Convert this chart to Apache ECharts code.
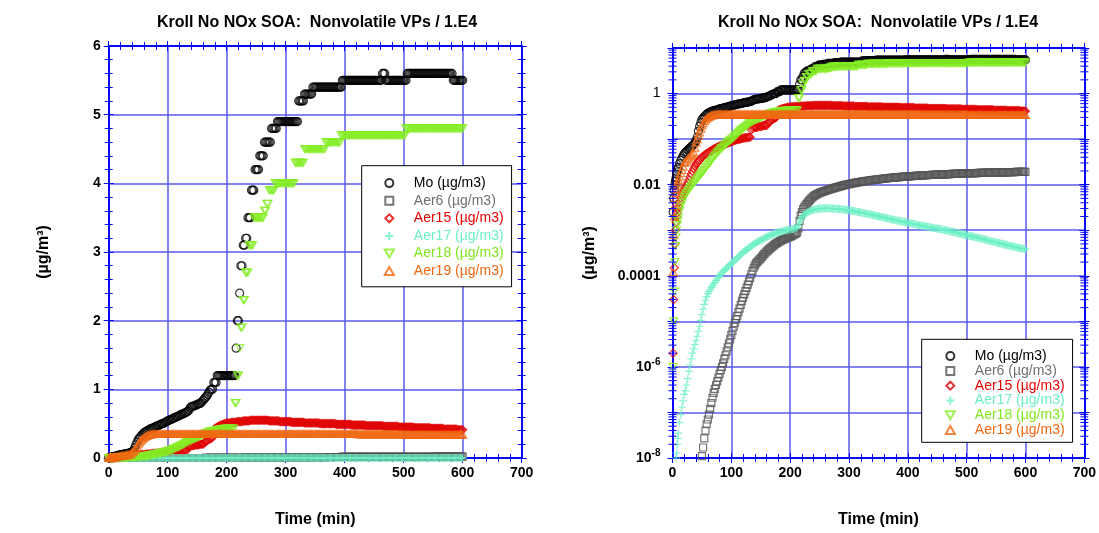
<!DOCTYPE html>
<html>
<head>
<meta charset="utf-8">
<title>Kroll No NOx SOA: Nonvolatile VPs / 1.E4</title>
<script src="https://cdn.jsdelivr.net/npm/echarts@6/dist/echarts.min.js"></script>
<style>
  html, body { margin: 0; padding: 0; background: #ffffff; }
  #chart { width: 1099px; height: 533px; }
</style>
</head>
<body>
<div id="chart"></div>
<script>
// Simulation output times (min); one row per 20 minutes after t = 20
const timeMin = [
  0, 1, 2, 3, 4, 5, 6, 7, 8, 9, 10, 12, 14, 16, 18, 20,
  22, 24, 26, 28, 30, 32, 34, 36, 38, 40,
  42, 44, 46, 48, 50, 52, 54, 56, 58, 60,
  62, 64, 66, 68, 70, 72, 74, 76, 78, 80,
  82, 84, 86, 88, 90, 92, 94, 96, 98, 100,
  102, 104, 106, 108, 110, 112, 114, 116, 118, 120,
  122, 124, 126, 128, 130, 132, 134, 136, 138, 140,
  142, 144, 146, 148, 150, 152, 154, 156, 158, 160,
  162, 164, 166, 168, 170, 172, 174, 176, 178, 180,
  182, 184, 186, 188, 190, 192, 194, 196, 198, 200,
  202, 204, 206, 208, 210, 212, 214, 216, 218, 220,
  222, 224, 226, 228, 230, 232, 234, 236, 238, 240,
  242, 244, 246, 248, 250, 252, 254, 256, 258, 260,
  262, 264, 266, 268, 270, 272, 274, 276, 278, 280,
  282, 284, 286, 288, 290, 292, 294, 296, 298, 300,
  302, 304, 306, 308, 310, 312, 314, 316, 318, 320,
  322, 324, 326, 328, 330, 332, 334, 336, 338, 340,
  342, 344, 346, 348, 350, 352, 354, 356, 358, 360,
  362, 364, 366, 368, 370, 372, 374, 376, 378, 380,
  382, 384, 386, 388, 390, 392, 394, 396, 398, 400,
  402, 404, 406, 408, 410, 412, 414, 416, 418, 420,
  422, 424, 426, 428, 430, 432, 434, 436, 438, 440,
  442, 444, 446, 448, 450, 452, 454, 456, 458, 460,
  462, 464, 466, 468, 470, 472, 474, 476, 478, 480,
  482, 484, 486, 488, 490, 492, 494, 496, 498, 500,
  502, 504, 506, 508, 510, 512, 514, 516, 518, 520,
  522, 524, 526, 528, 530, 532, 534, 536, 538, 540,
  542, 544, 546, 548, 550, 552, 554, 556, 558, 560,
  562, 564, 566, 568, 570, 572, 574, 576, 578, 580,
  582, 584, 586, 588, 590, 592, 594, 596, 598, 600
];

// Aerosol concentrations (ug/m3), same row layout as timeMin
const mo = [
  0, 0.0025, 0.005, 0.0075, 0.01, 0.012, 0.014, 0.017, 0.019, 0.022, 0.024, 0.029, 0.034, 0.038, 0.043, 0.048,
  0.051, 0.054, 0.058, 0.061, 0.064, 0.068, 0.072, 0.076, 0.083, 0.093,
  0.11, 0.15, 0.19, 0.23, 0.27, 0.29, 0.31, 0.33, 0.35, 0.37,
  0.38, 0.39, 0.40, 0.41, 0.42, 0.43, 0.43, 0.44, 0.45, 0.46,
  0.47, 0.47, 0.48, 0.49, 0.50, 0.50, 0.51, 0.52, 0.53, 0.54,
  0.55, 0.56, 0.56, 0.57, 0.58, 0.59, 0.60, 0.60, 0.61, 0.62,
  0.63, 0.64, 0.64, 0.65, 0.66, 0.67, 0.68, 0.70, 0.73, 0.75,
  0.75, 0.76, 0.76, 0.77, 0.78, 0.79, 0.79, 0.80, 0.82, 0.84,
  0.86, 0.88, 0.90, 0.93, 0.96, 0.99, 1.0, 1.0, 1.1, 1.1,
  1.1, 1.2, 1.2, 1.2, 1.2, 1.2, 1.2, 1.2, 1.2, 1.2,
  1.2, 1.2, 1.2, 1.2, 1.2, 1.2, 1.2, 1.6, 2.0, 2.0,
  2.4, 2.8, 2.8, 3.1, 3.1, 3.2, 3.2, 3.5, 3.5, 3.5,
  3.9, 3.9, 3.9, 4.2, 4.2, 4.2, 4.2, 4.4, 4.4, 4.4,
  4.4, 4.6, 4.6, 4.6, 4.6, 4.6, 4.6, 4.8, 4.8, 4.8,
  4.8, 4.8, 4.9, 4.9, 4.9, 4.9, 4.9, 4.9, 4.9, 4.9,
  4.9, 4.9, 4.9, 4.9, 4.9, 4.9, 4.9, 4.9, 4.9, 4.9,
  5.2, 5.2, 5.2, 5.2, 5.2, 5.3, 5.3, 5.3, 5.3, 5.3,
  5.3, 5.3, 5.4, 5.4, 5.4, 5.4, 5.4, 5.4, 5.4, 5.4,
  5.4, 5.4, 5.4, 5.4, 5.4, 5.4, 5.4, 5.4, 5.4, 5.4,
  5.4, 5.4, 5.4, 5.4, 5.4, 5.4, 5.4, 5.5, 5.5, 5.5,
  5.5, 5.5, 5.5, 5.5, 5.5, 5.5, 5.5, 5.5, 5.5, 5.5,
  5.5, 5.5, 5.5, 5.5, 5.5, 5.5, 5.5, 5.5, 5.5, 5.5,
  5.5, 5.5, 5.5, 5.5, 5.5, 5.5, 5.5, 5.5, 5.5, 5.5,
  5.5, 5.6, 5.6, 5.6, 5.5, 5.5, 5.5, 5.5, 5.5, 5.5,
  5.5, 5.5, 5.5, 5.5, 5.5, 5.5, 5.5, 5.5, 5.5, 5.5,
  5.5, 5.5, 5.6, 5.6, 5.6, 5.6, 5.6, 5.6, 5.6, 5.6,
  5.6, 5.6, 5.6, 5.6, 5.6, 5.6, 5.6, 5.6, 5.6, 5.6,
  5.6, 5.6, 5.6, 5.6, 5.6, 5.6, 5.6, 5.6, 5.6, 5.6,
  5.6, 5.6, 5.6, 5.6, 5.6, 5.6, 5.6, 5.6, 5.6, 5.6,
  5.6, 5.5, 5.5, 5.5, 5.5, 5.5, 5.5, 5.5, 5.5, 5.5
];
const aer6 = [
  0, 0, 0, 0, 0, 0, 0, 0, 0, 0, 0, 0, 0, 0, 0, 0,
  0, 0, 0, 0, 0, 0, 0, 0, 0, 0,
  0, 0, 0, 7e-9, 1.1e-8, 1.7e-8, 2.7e-8, 4e-8, 5.5e-8, 7e-8,
  9e-8, 1.2e-7, 1.6e-7, 2.1e-7, 2.7e-7, 3.3e-7, 4e-7, 4.8e-7, 5.8e-7, 7e-7,
  8.5e-7, 1e-6, 1.2e-6, 1.5e-6, 1.8e-6, 2.2e-6, 2.7e-6, 3.3e-6, 4e-6, 5e-6,
  6.2e-6, 7.6e-6, 9.2e-6, 1.1e-5, 1.3e-5, 1.6e-5, 1.9e-5, 2.3e-5, 2.8e-5, 3.3e-5,
  3.9e-5, 4.6e-5, 5.4e-5, 6.4e-5, 7.5e-5, 9e-5, 1.08e-4, 1.28e-4, 1.5e-4, 1.7e-4,
  1.87e-4, 2.0e-4, 2.15e-4, 2.28e-4, 2.4e-4, 2.6e-4, 2.8e-4, 3.0e-4, 3.2e-4, 3.4e-4,
  3.6e-4, 3.8e-4, 4.0e-4, 4.2e-4, 4.4e-4, 4.65e-4, 4.9e-4, 5.1e-4, 5.3e-4, 5.5e-4,
  5.7e-4, 5.9e-4, 6.1e-4, 6.3e-4, 6.4e-4, 6.6e-4, 6.8e-4, 6.9e-4, 7.1e-4, 7.2e-4,
  7.4e-4, 7.7e-4, 8.0e-4, 8.3e-4, 8.5e-4, 9e-4, 1.1e-3, 1.6e-3, 2.1e-3, 2.5e-3,
  2.9e-3, 3.2e-3, 3.5e-3, 3.8e-3, 4.1e-3, 4.4e-3, 4.7e-3, 5e-3, 5.3e-3, 5.6e-3,
  5.8e-3, 6e-3, 6.2e-3, 6.4e-3, 6.6e-3, 6.75e-3, 6.9e-3, 7.05e-3, 7.2e-3, 7.35e-3,
  7.5e-3, 7.65e-3, 7.8e-3, 7.95e-3, 8.1e-3, 8.25e-3, 8.4e-3, 8.55e-3, 8.7e-3, 8.85e-3,
  9e-3, 9.15e-3, 9.3e-3, 9.45e-3, 9.6e-3, 9.75e-3, 9.9e-3, 0.0100, 0.0102, 0.0103,
  0.0104, 0.0106, 0.0107, 0.0108, 0.0109, 0.0111, 0.0112, 0.0113, 0.0114, 0.0116,
  0.0117, 0.0118, 0.0119, 0.012, 0.0121, 0.0122, 0.0123, 0.0124, 0.0125, 0.0126,
  0.0127, 0.0128, 0.0129, 0.013, 0.0131, 0.0132, 0.0133, 0.0134, 0.0135, 0.0136,
  0.0137, 0.0138, 0.0139, 0.014, 0.0141, 0.0141, 0.0142, 0.0143, 0.0144, 0.0145,
  0.0145, 0.0146, 0.0147, 0.0148, 0.0148, 0.0149, 0.015, 0.0151, 0.0151, 0.0152,
  0.0152, 0.0153, 0.0154, 0.0154, 0.0155, 0.0156, 0.0156, 0.0157, 0.0158, 0.0158,
  0.0159, 0.0159, 0.016, 0.016, 0.0161, 0.0162, 0.0162, 0.0163, 0.0163, 0.0164,
  0.0164, 0.0165, 0.0165, 0.0166, 0.0166, 0.0167, 0.0167, 0.0168, 0.0168, 0.0169,
  0.0169, 0.0169, 0.017, 0.017, 0.0171, 0.0171, 0.0172, 0.0172, 0.0173, 0.0173,
  0.0173, 0.0174, 0.0174, 0.0175, 0.0175, 0.0175, 0.0176, 0.0176, 0.0177, 0.0177,
  0.0177, 0.0178, 0.0178, 0.0178, 0.0179, 0.0179, 0.018, 0.018, 0.018, 0.0181,
  0.0181, 0.0181, 0.0182, 0.0182, 0.0182, 0.0183, 0.0183, 0.0183, 0.0184, 0.0184,
  0.0184, 0.0184, 0.0185, 0.0185, 0.0185, 0.0186, 0.0186, 0.0186, 0.0186, 0.0187,
  0.0187, 0.0187, 0.0187, 0.0188, 0.0188, 0.0188, 0.0188, 0.0189, 0.0189, 0.0189,
  0.0189, 0.019, 0.019, 0.019, 0.019, 0.019, 0.0191, 0.0191, 0.0191, 0.0191
];
const aer15 = [
  0, 2e-6, 3e-5, 1.5e-4, 5e-4, 1e-3, 1.5e-3, 2e-3, 2.4e-3, 2.9e-3, 3.3e-3, 4.2e-3, 5.1e-3, 6e-3, 6.8e-3, 7.6e-3,
  0.0085, 0.0097, 0.011, 0.0128, 0.015, 0.0172, 0.0196, 0.0222, 0.025, 0.028,
  0.03, 0.033, 0.035, 0.038, 0.04, 0.042, 0.044, 0.046, 0.048, 0.05,
  0.052, 0.054, 0.056, 0.058, 0.06, 0.062, 0.064, 0.066, 0.068, 0.07,
  0.072, 0.073, 0.075, 0.076, 0.078, 0.08, 0.082, 0.084, 0.086, 0.088,
  0.09, 0.092, 0.094, 0.096, 0.098, 0.099, 0.1, 0.101, 0.103, 0.105,
  0.106, 0.107, 0.108, 0.109, 0.11, 0.11, 0.16, 0.17, 0.18, 0.18,
  0.18, 0.18, 0.19, 0.19, 0.19, 0.19, 0.2, 0.2, 0.2, 0.2,
  0.22, 0.24, 0.25, 0.26, 0.27, 0.28, 0.29, 0.3, 0.38, 0.43,
  0.44, 0.45, 0.46, 0.47, 0.48, 0.48, 0.49, 0.5, 0.5, 0.51,
  0.51, 0.51, 0.51, 0.52, 0.52, 0.52, 0.52, 0.52, 0.53, 0.53,
  0.53, 0.53, 0.53, 0.54, 0.54, 0.54, 0.54, 0.54, 0.54, 0.55,
  0.55, 0.55, 0.55, 0.55, 0.55, 0.55, 0.55, 0.55, 0.55, 0.55,
  0.55, 0.55, 0.55, 0.55, 0.55, 0.54, 0.54, 0.54, 0.54, 0.54,
  0.54, 0.54, 0.54, 0.54, 0.53, 0.53, 0.53, 0.53, 0.53, 0.53,
  0.53, 0.53, 0.53, 0.53, 0.52, 0.52, 0.52, 0.52, 0.52, 0.52,
  0.52, 0.52, 0.52, 0.52, 0.52, 0.51, 0.51, 0.51, 0.51, 0.51,
  0.51, 0.51, 0.51, 0.51, 0.51, 0.51, 0.51, 0.51, 0.50, 0.50,
  0.50, 0.50, 0.50, 0.50, 0.50, 0.50, 0.50, 0.50, 0.50, 0.50,
  0.50, 0.50, 0.49, 0.49, 0.49, 0.49, 0.49, 0.49, 0.49, 0.49,
  0.49, 0.49, 0.49, 0.49, 0.49, 0.48, 0.48, 0.48, 0.48, 0.48,
  0.48, 0.48, 0.48, 0.48, 0.48, 0.48, 0.48, 0.47, 0.47, 0.47,
  0.47, 0.47, 0.47, 0.47, 0.47, 0.47, 0.47, 0.47, 0.47, 0.47,
  0.47, 0.47, 0.46, 0.46, 0.46, 0.46, 0.46, 0.46, 0.46, 0.46,
  0.46, 0.46, 0.46, 0.46, 0.46, 0.45, 0.45, 0.45, 0.45, 0.45,
  0.45, 0.45, 0.45, 0.45, 0.45, 0.45, 0.45, 0.45, 0.44, 0.44,
  0.44, 0.44, 0.44, 0.44, 0.44, 0.44, 0.44, 0.44, 0.44, 0.44,
  0.44, 0.44, 0.43, 0.43, 0.43, 0.43, 0.43, 0.43, 0.43, 0.43,
  0.43, 0.43, 0.43, 0.42, 0.42, 0.42, 0.42, 0.42, 0.42, 0.42,
  0.42, 0.42, 0.42, 0.42, 0.42, 0.41, 0.41, 0.41, 0.41, 0.41
];
const aer17 = [
  0, 0, 0, 0, 0, 0, 1e-8, 1.3e-8, 2e-8, 2.7e-8, 3.5e-8, 6e-8, 9e-8, 1.3e-7, 1.8e-7, 2.5e-7,
  3e-7, 4e-7, 5.5e-7, 8e-7, 1.1e-6, 1.5e-6, 2e-6, 2.5e-6, 3.1e-6, 3.8e-6,
  4.7e-6, 6e-6, 7.8e-6, 1.05e-5, 1.4e-5, 1.85e-5, 2.35e-5, 2.9e-5, 3.45e-5, 4e-5,
  4.5e-5, 5e-5, 5.5e-5, 6e-5, 6.6e-5, 7.2e-5, 7.9e-5, 8.6e-5, 9.3e-5, 1e-4,
  1.08e-4, 1.16e-4, 1.24e-4, 1.32e-4, 1.4e-4, 1.48e-4, 1.56e-4, 1.65e-4, 1.75e-4, 1.85e-4,
  1.96e-4, 2.07e-4, 2.18e-4, 2.3e-4, 2.45e-4, 2.6e-4, 2.75e-4, 2.9e-4, 3.1e-4, 3.3e-4,
  3.45e-4, 3.6e-4, 3.75e-4, 3.9e-4, 4.1e-4, 4.3e-4, 4.5e-4, 4.7e-4, 4.9e-4, 5.1e-4,
  5.3e-4, 5.5e-4, 5.7e-4, 5.85e-4, 6e-4, 6.2e-4, 6.45e-4, 6.65e-4, 6.9e-4, 7.1e-4,
  7.3e-4, 7.5e-4, 7.7e-4, 7.9e-4, 8.1e-4, 8.3e-4, 8.5e-4, 8.6e-4, 8.8e-4, 9e-4,
  9.15e-4, 9.3e-4, 9.45e-4, 9.6e-4, 9.8e-4, 9.9e-4, 1e-3, 1.01e-3, 1.03e-3, 1.04e-3,
  1.05e-3, 1.06e-3, 1.07e-3, 1.09e-3, 1.1e-3, 1.15e-3, 1.3e-3, 1.5e-3, 1.7e-3, 1.9e-3,
  2.05e-3, 2.2e-3, 2.3e-3, 2.4e-3, 2.5e-3, 2.58e-3, 2.65e-3, 2.72e-3, 2.78e-3, 2.83e-3,
  2.87e-3, 2.9e-3, 2.93e-3, 2.96e-3, 2.98e-3, 2.99e-3, 3e-3, 3.01e-3, 3.02e-3, 3.02e-3,
  3.02e-3, 3.02e-3, 3.02e-3, 3.01e-3, 3e-3, 2.99e-3, 2.98e-3, 2.97e-3, 2.96e-3, 2.95e-3,
  2.93e-3, 2.91e-3, 2.89e-3, 2.87e-3, 2.85e-3, 2.83e-3, 2.81e-3, 2.79e-3, 2.77e-3, 2.75e-3,
  2.72e-3, 2.69e-3, 2.66e-3, 2.63e-3, 2.6e-3, 2.57e-3, 2.54e-3, 2.51e-3, 2.48e-3, 2.45e-3,
  2.42e-3, 2.39e-3, 2.36e-3, 2.33e-3, 2.31e-3, 2.28e-3, 2.25e-3, 2.22e-3, 2.2e-3, 2.17e-3,
  2.14e-3, 2.11e-3, 2.08e-3, 2.06e-3, 2.03e-3, 2e-3, 1.97e-3, 1.94e-3, 1.92e-3, 1.89e-3,
  1.86e-3, 1.84e-3, 1.81e-3, 1.79e-3, 1.76e-3, 1.74e-3, 1.72e-3, 1.7e-3, 1.67e-3, 1.65e-3,
  1.63e-3, 1.61e-3, 1.59e-3, 1.57e-3, 1.55e-3, 1.53e-3, 1.51e-3, 1.49e-3, 1.47e-3, 1.46e-3,
  1.44e-3, 1.42e-3, 1.4e-3, 1.38e-3, 1.37e-3, 1.35e-3, 1.34e-3, 1.32e-3, 1.31e-3, 1.29e-3,
  1.28e-3, 1.26e-3, 1.25e-3, 1.23e-3, 1.22e-3, 1.2e-3, 1.19e-3, 1.17e-3, 1.16e-3, 1.15e-3,
  1.14e-3, 1.12e-3, 1.11e-3, 1.1e-3, 1.09e-3, 1.07e-3, 1.06e-3, 1.05e-3, 1.04e-3, 1.03e-3,
  1.01e-3, 1e-3, 9.9e-4, 9.7e-4, 9.6e-4, 9.5e-4, 9.3e-4, 9.2e-4, 9.1e-4, 9e-4,
  8.8e-4, 8.7e-4, 8.6e-4, 8.5e-4, 8.3e-4, 8.2e-4, 8.1e-4, 8e-4, 7.9e-4, 7.8e-4,
  7.7e-4, 7.6e-4, 7.5e-4, 7.4e-4, 7.3e-4, 7.2e-4, 7.1e-4, 7e-4, 6.9e-4, 6.8e-4,
  6.7e-4, 6.6e-4, 6.5e-4, 6.4e-4, 6.3e-4, 6.2e-4, 6.1e-4, 6e-4, 5.9e-4, 5.8e-4,
  5.7e-4, 5.62e-4, 5.55e-4, 5.48e-4, 5.4e-4, 5.32e-4, 5.25e-4, 5.18e-4, 5.1e-4, 5.03e-4,
  4.96e-4, 4.89e-4, 4.82e-4, 4.75e-4, 4.68e-4, 4.62e-4, 4.55e-4, 4.49e-4, 4.42e-4, 4.36e-4,
  4.3e-4, 4.24e-4, 4.18e-4, 4.12e-4, 4.06e-4, 4e-4, 3.95e-4, 3.9e-4, 3.85e-4, 3.8e-4
];
const aer18 = [
  0, 1e-6, 1e-5, 4.5e-5, 2e-4, 4.5e-4, 7e-4, 1e-3, 1.3e-3, 1.6e-3, 1.9e-3, 2.6e-3, 3.3e-3, 4e-3, 4.7e-3, 5.4e-3,
  6e-3, 6.6e-3, 7.2e-3, 7.9e-3, 8.6e-3, 9.3e-3, 0.01, 0.0108, 0.0116, 0.0125,
  0.0135, 0.0145, 0.0156, 0.0168, 0.018, 0.0195, 0.021, 0.023, 0.025, 0.027,
  0.029, 0.031, 0.034, 0.037, 0.04, 0.043, 0.046, 0.05, 0.053, 0.057,
  0.061, 0.064, 0.068, 0.072, 0.076, 0.08, 0.085, 0.089, 0.094, 0.098,
  0.103, 0.108, 0.115, 0.122, 0.13, 0.138, 0.146, 0.154, 0.162, 0.17,
  0.178, 0.186, 0.194, 0.205, 0.22, 0.228, 0.236, 0.244, 0.252, 0.26,
  0.268, 0.276, 0.284, 0.292, 0.3, 0.308, 0.316, 0.324, 0.332, 0.34,
  0.348, 0.356, 0.364, 0.372, 0.38, 0.384, 0.388, 0.392, 0.396, 0.4,
  0.404, 0.408, 0.412, 0.416, 0.42, 0.42, 0.42, 0.425, 0.425, 0.43,
  0.43, 0.43, 0.43, 0.43, 0.43, 0.43, 0.8, 0.8, 1.2, 1.2,
  1.6, 1.9, 1.9, 2.3, 2.3, 2.7, 2.7, 2.7, 3.1, 3.1,
  3.1, 3.1, 3.5, 3.5, 3.5, 3.5, 3.5, 3.5, 3.5, 3.5,
  3.5, 3.6, 3.6, 3.7, 3.7, 3.9, 3.9, 3.9, 3.9, 3.9,
  4.0, 4.0, 4.0, 4.0, 4.0, 4.0, 4.0, 4.0, 4.0, 4.0,
  4.0, 4.0, 4.0, 4.0, 4.0, 4.0, 4.0, 4.3, 4.3, 4.3,
  4.3, 4.3, 4.3, 4.3, 4.3, 4.5, 4.5, 4.5, 4.5, 4.5,
  4.5, 4.5, 4.5, 4.5, 4.5, 4.5, 4.5, 4.5, 4.5, 4.5,
  4.5, 4.5, 4.5, 4.6, 4.6, 4.6, 4.6, 4.6, 4.6, 4.6,
  4.6, 4.6, 4.6, 4.6, 4.6, 4.6, 4.7, 4.7, 4.7, 4.7,
  4.7, 4.7, 4.7, 4.7, 4.7, 4.7, 4.7, 4.7, 4.7, 4.7,
  4.7, 4.7, 4.7, 4.7, 4.7, 4.7, 4.7, 4.7, 4.7, 4.7,
  4.7, 4.7, 4.7, 4.7, 4.7, 4.7, 4.7, 4.7, 4.7, 4.7,
  4.7, 4.7, 4.7, 4.7, 4.7, 4.7, 4.7, 4.7, 4.7, 4.7,
  4.7, 4.7, 4.7, 4.7, 4.7, 4.7, 4.7, 4.7, 4.7, 4.7,
  4.7, 4.8, 4.8, 4.8, 4.8, 4.8, 4.8, 4.8, 4.8, 4.8,
  4.8, 4.8, 4.8, 4.8, 4.8, 4.8, 4.8, 4.8, 4.8, 4.8,
  4.8, 4.8, 4.8, 4.8, 4.8, 4.8, 4.8, 4.8, 4.8, 4.8,
  4.8, 4.8, 4.8, 4.8, 4.8, 4.8, 4.8, 4.8, 4.8, 4.8,
  4.8, 4.8, 4.8, 4.8, 4.8, 4.8, 4.8, 4.8, 4.8, 4.8
];
const aer19 = [
  0, 1.2e-4, 8e-4, 2e-3, 3.5e-3, 5e-3, 6.5e-3, 8e-3, 9.5e-3, 0.011, 0.0125, 0.015, 0.018, 0.021, 0.025, 0.03,
  0.032, 0.034, 0.037, 0.039, 0.042, 0.045, 0.048, 0.052, 0.065, 0.085,
  0.1, 0.12, 0.14, 0.17, 0.2, 0.225, 0.25, 0.27, 0.285, 0.3,
  0.31, 0.32, 0.33, 0.335, 0.34, 0.345, 0.345, 0.35, 0.35, 0.35,
  0.35, 0.35, 0.35, 0.35, 0.35, 0.35, 0.35, 0.35, 0.35, 0.35,
  0.35, 0.35, 0.35, 0.35, 0.35, 0.35, 0.35, 0.35, 0.35, 0.35,
  0.35, 0.35, 0.35, 0.35, 0.35, 0.35, 0.35, 0.35, 0.35, 0.35,
  0.35, 0.35, 0.35, 0.35, 0.35, 0.35, 0.35, 0.35, 0.35, 0.35,
  0.35, 0.35, 0.35, 0.35, 0.35, 0.35, 0.35, 0.35, 0.35, 0.35,
  0.35, 0.35, 0.35, 0.35, 0.35, 0.35, 0.35, 0.35, 0.35, 0.35,
  0.35, 0.35, 0.35, 0.35, 0.35, 0.35, 0.35, 0.35, 0.35, 0.35,
  0.35, 0.35, 0.35, 0.35, 0.35, 0.35, 0.35, 0.35, 0.35, 0.35,
  0.35, 0.35, 0.35, 0.35, 0.35, 0.35, 0.35, 0.35, 0.35, 0.35,
  0.35, 0.35, 0.35, 0.35, 0.35, 0.35, 0.35, 0.35, 0.35, 0.35,
  0.35, 0.35, 0.35, 0.35, 0.35, 0.35, 0.35, 0.35, 0.35, 0.35,
  0.35, 0.35, 0.35, 0.35, 0.35, 0.35, 0.35, 0.35, 0.35, 0.35,
  0.35, 0.35, 0.35, 0.35, 0.35, 0.35, 0.35, 0.35, 0.35, 0.35,
  0.35, 0.35, 0.35, 0.35, 0.35, 0.35, 0.35, 0.35, 0.35, 0.35,
  0.35, 0.35, 0.35, 0.35, 0.35, 0.35, 0.35, 0.35, 0.35, 0.35,
  0.35, 0.35, 0.35, 0.35, 0.35, 0.35, 0.35, 0.35, 0.35, 0.35,
  0.35, 0.35, 0.35, 0.35, 0.35, 0.35, 0.35, 0.35, 0.35, 0.35,
  0.345, 0.345, 0.345, 0.345, 0.345, 0.345, 0.345, 0.345, 0.345, 0.345,
  0.345, 0.345, 0.345, 0.345, 0.345, 0.345, 0.345, 0.345, 0.345, 0.345,
  0.345, 0.345, 0.345, 0.345, 0.345, 0.345, 0.345, 0.345, 0.345, 0.345,
  0.345, 0.345, 0.345, 0.345, 0.345, 0.345, 0.345, 0.345, 0.345, 0.345,
  0.34, 0.34, 0.34, 0.34, 0.34, 0.34, 0.34, 0.34, 0.34, 0.34,
  0.34, 0.34, 0.34, 0.34, 0.34, 0.34, 0.34, 0.34, 0.34, 0.34,
  0.34, 0.34, 0.34, 0.34, 0.34, 0.34, 0.34, 0.34, 0.34, 0.34,
  0.34, 0.34, 0.34, 0.34, 0.34, 0.34, 0.34, 0.34, 0.34, 0.34,
  0.34, 0.34, 0.34, 0.34, 0.34, 0.34, 0.34, 0.34, 0.34, 0.34
];

const seriesNames = ['Mo (µg/m3)', 'Aer6 (µg/m3)', 'Aer15 (µg/m3)', 'Aer17 (µg/m3)', 'Aer18 (µg/m3)', 'Aer19 (µg/m3)'];
const chartTitle = 'Kroll No NOx SOA:  Nonvolatile VPs / 1.E4';
const yTitle = '(µg/m³)';
const xTitle = 'Time (min)';
// labels for the decades of the log axis (exponent -> label)
const logTickLabels = { '0': '{n|1}', '-2': '0.01', '-4': '0.0001', '-6': '10{sup|-6}', '-8': '10{sup|-8}' };

const FONT = '"Liberation Sans", Arial, Helvetica, sans-serif';
const AXIS_BLUE = '#0000ff';
const GRID_BLUE = '#5a5aec';

const markerStyles = [
  { data: mo,    symbol: 'circle',                          size: 8,      color: '#000000', text: '#000000' },
  { data: aer6,  symbol: 'path://M0,0H10V10H0Z',            size: 7,      color: '#555555', text: '#707070' },
  { data: aer15, symbol: 'path://M5,0L10,5L5,10L0,5Z',      size: 8,      color: '#e00000', text: '#e80000' },
  { data: aer17, symbol: 'path://M5,0V10M0,5H10',           size: 8,      color: '#6cf0c6', text: '#6cf0c6' },
  { data: aer18, symbol: 'path://M0,0H10L5,8.66Z',          size: [8, 7], color: '#84ee24', text: '#80e820' },
  { data: aer19, symbol: 'path://M5,0L10,8.66H0Z',          size: [8, 7], color: '#f06812', text: '#f06812' }
];

// minor ticks of the log axis at 2..9 x 10^k
const logMinorTicks = [];
for (let e = -8; e < 1; e++) {
  for (let m = 2; m <= 9; m++) logMinorTicks.push(m * Math.pow(10, e));
}

const tickLine = { color: AXIS_BLUE, width: 1 };
const axisLine = { show: true, onZero: false, lineStyle: { color: AXIS_BLUE, width: 1.5 } };
const labelFont = { color: '#000', fontSize: 14, fontWeight: 'bold', fontFamily: FONT };
const nameFont = { color: '#000', fontSize: 16, fontWeight: 'bold', fontFamily: FONT };

function xAxesFor(gridIndex) {
  const base = {
    gridIndex, type: 'value', min: 0, max: 700, interval: 100, silent: true,
    axisLine, axisLabel: { show: false }, splitLine: { show: false }
  };
  const ticks = (inside) => ({
    axisTick: { show: true, inside, length: 5, lineStyle: tickLine },
    minorTick: { show: true, splitNumber: 5, length: 4, lineStyle: tickLine }
  });
  return [
    Object.assign({}, base, ticks(false), {
      position: 'bottom',
      axisLabel: Object.assign({ show: true, margin: 8 }, labelFont),
      splitLine: { show: true, lineStyle: { color: GRID_BLUE, width: 1.5 } },
      name: xTitle, nameLocation: 'middle', nameGap: 54, nameTextStyle: nameFont
    }),
    Object.assign({}, base, ticks(true), { position: 'bottom' }),
    Object.assign({}, base, ticks(false), { position: 'top' }),
    Object.assign({}, base, ticks(true), { position: 'top' })
  ];
}

function yAxesFor(gridIndex, isLog) {
  const scale = isLog
    ? { type: 'log', logBase: 10, min: 1e-8, max: 10, splitNumber: 10 }
    : { type: 'value', min: 0, max: 6, interval: 1 };
  const base = Object.assign({ gridIndex, silent: true, axisLine, axisLabel: { show: false }, splitLine: { show: false } }, scale);
  const ticks = (inside) => ({
    axisTick: { show: true, inside, length: 5, lineStyle: tickLine },
    minorTick: { show: !isLog, splitNumber: 5, length: 4, lineStyle: tickLine }
  });
  const label = isLog
    ? Object.assign({ show: true, margin: 12 }, labelFont, {
        formatter: (v) => {
          const key = String(Math.round(Math.log10(v)));
          return logTickLabels[key] || '';
        },
        rich: {
          n: { fontSize: 14, fontWeight: 'normal', fontFamily: FONT, color: '#000' },
          sup: { fontSize: 10, fontWeight: 'bold', fontFamily: FONT, color: '#000', padding: [0, 0, 9, 0] }
        }
      })
    : Object.assign({ show: true, margin: 8 }, labelFont);
  return [
    Object.assign({}, base, ticks(false), {
      position: 'left', axisLabel: label,
      splitLine: { show: true, lineStyle: { color: GRID_BLUE, width: 1.5 } },
      name: yTitle, nameLocation: 'middle', nameRotate: 90, nameGap: isLog ? 75 : 57,
      nameTextStyle: nameFont
    }),
    Object.assign({}, base, ticks(true), { position: 'left' }),
    Object.assign({}, base, ticks(false), { position: 'right' }),
    Object.assign({}, base, ticks(true), { position: 'right' })
  ];
}

function scatterSeries(xAxisIndex, yAxisIndex, isLog) {
  return markerStyles.map((m, i) => ({
    name: seriesNames[i],
    type: 'scatter',
    xAxisIndex, yAxisIndex,
    symbol: m.symbol,
    symbolSize: m.size,
    clip: true,
    silent: true,
    itemStyle: { color: 'rgba(0,0,0,0)', borderColor: m.color, borderWidth: 1.2 },
    data: timeMin.map((t, k) => [t, m.data[k]]).filter((p) => !isLog || p[1] > 0)
  }));
}

function legendFor(left, top, lineHeight, padding) {
  return {
    orient: 'vertical', left, top, padding,
    itemWidth: 39, itemHeight: 8, itemGap: 0,
    selectedMode: false,
    backgroundColor: '#ffffff', borderColor: '#000000', borderWidth: 1, borderRadius: 0,
    textStyle: { fontSize: 14, fontFamily: FONT, lineHeight },
    data: seriesNames.map((n, i) => ({ name: n, textStyle: { color: markerStyles[i].text } }))
  };
}

const option = {
  animation: false,
  backgroundColor: '#ffffff',
  title: [
    { text: chartTitle, left: 312, top: 10, textAlign: 'center',
      textStyle: { fontSize: 16, fontWeight: 'bold', fontFamily: FONT, color: '#000' } },
    { text: chartTitle, left: 873, top: 10, textAlign: 'center',
      textStyle: { fontSize: 16, fontWeight: 'bold', fontFamily: FONT, color: '#000' } }
  ],
  grid: [
    { left: 108.7, top: 46, width: 413, height: 414 },
    { left: 672.5, top: 48, width: 413, height: 412 }
  ],
  xAxis: xAxesFor(0).concat(xAxesFor(1)),
  yAxis: yAxesFor(0, false).concat(yAxesFor(1, true)),
  legend: [
    legendFor(361.7, 165.7, 17.6, [8.6, 8, 6.9, 22]),
    legendFor(921.7, 339.3, 14.8, [9.4, 8, 4.8, 23])
  ],
  series: scatterSeries(0, 0, false)
    .concat(scatterSeries(4, 4, true))
    .concat([{
      type: 'custom',
      xAxisIndex: 4, yAxisIndex: 4,
      silent: true, z: 3,
      data: logMinorTicks.map((v) => [0, v]),
      renderItem: (params, api) => {
        const v = api.value(1);
        const pl = api.coord([0, v]);
        const pr = api.coord([700, v]);
        return {
          type: 'group',
          children: [
            { type: 'line', shape: { x1: pl[0] - 4, y1: pl[1], x2: pl[0] + 4, y2: pl[1] }, style: { stroke: AXIS_BLUE, lineWidth: 1 } },
            { type: 'line', shape: { x1: pr[0] - 4, y1: pr[1], x2: pr[0] + 4, y2: pr[1] }, style: { stroke: AXIS_BLUE, lineWidth: 1 } }
          ]
        };
      }
    }])
};

const chart = echarts.init(document.getElementById('chart'));
chart.setOption(option);
</script>
</body>
</html>
